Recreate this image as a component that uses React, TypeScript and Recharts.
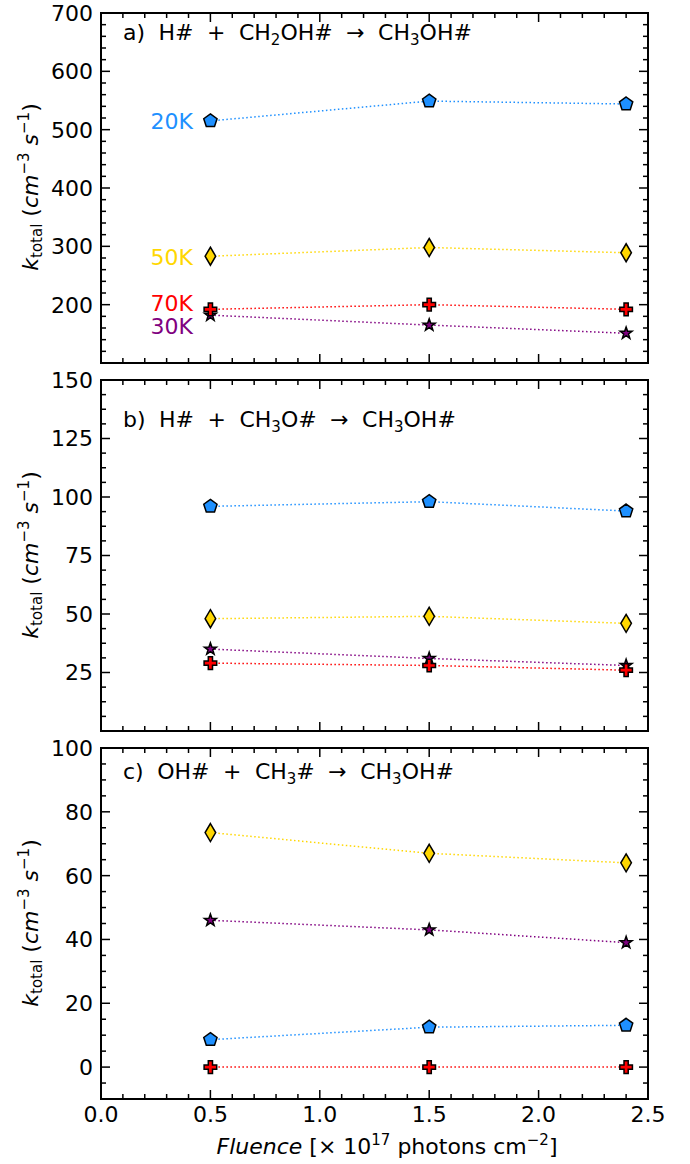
import React from 'react';
import { LineChart, Line, XAxis, YAxis, ReferenceArea, ReferenceDot } from 'recharts';

const FONT = '"DejaVu Sans", sans-serif';
const FS = 22;

const FLUENCE = [0.5, 1.5, 2.4];
const TEMPS = ['20K', '30K', '50K', '70K'];
const COLORS = ['#1e90ff', '#800080', '#ffd700', '#ff0000'];
const MARKERS = ['pentagon', 'star', 'diamond', 'plus'];

// a) H# + CH2OH# -> CH3OH#
const A_20K = [515, 549, 544];
const A_30K = [182, 165, 151];
const A_50K = [283, 298, 289];
const A_70K = [192, 200, 192];

// b) H# + CH3O# -> CH3OH#
const B_20K = [96, 98, 94];
const B_30K = [35, 31, 28];
const B_50K = [48, 49, 46];
const B_70K = [29, 28, 26];

// c) OH# + CH3# -> CH3OH#
const C_20K = [8.6, 12.5, 13.1];
const C_30K = [46, 43, 39];
const C_50K = [73.5, 67, 64];
const C_70K = [0, 0, 0];

// temperature labels in panel a (data y of label centre)
const TEMP_LABEL_Y = [514, 163, 282, 203];

const X_MAJOR = [0, 0.5, 1, 1.5, 2, 2.5];
const A_Y_MAJOR = [200, 300, 400, 500, 600, 700];
const B_Y_MAJOR = [25, 50, 75, 100, 125, 150];
const C_Y_MAJOR = [0, 20, 40, 60, 80, 100];

const PLOT_LEFT = 101;
const PLOT_RIGHT = 648;
const PW = PLOT_RIGHT - PLOT_LEFT;

function steps(from: number, to: number, step: number) {
  const out: number[] = [];
  for (let v = from; v <= to + 1e-9; v += step) out.push(Math.round(v * 1000) / 1000);
  return out;
}

function isMajor(v: number, majors: number[]) {
  return majors.some((m) => Math.abs(m - v) < 1e-6);
}

function rows(series: number[][]) {
  return FLUENCE.map((x, i) => {
    const r: Record<string, number> = { x };
    TEMPS.forEach((t, j) => (r[t] = series[j][i]));
    return r;
  });
}

function Marker({ kind, cx, cy, fill }: { kind: string; cx: number; cy: number; fill: string }) {
  if (cx == null || cy == null) return null;
  let pts: number[][] = [];
  if (kind === 'pentagon') {
    for (let i = 0; i < 5; i++) {
      const a = (-90 + 72 * i) * (Math.PI / 180);
      pts.push([cx + 7 * Math.cos(a), cy + 7 * Math.sin(a)]);
    }
  } else if (kind === 'star') {
    for (let i = 0; i < 10; i++) {
      const a = (-90 + 36 * i) * (Math.PI / 180);
      const r = i % 2 === 0 ? 6.3 : 2.5;
      pts.push([cx + r * Math.cos(a), cy + r * Math.sin(a)]);
    }
  } else if (kind === 'diamond') {
    pts = [[cx, cy - 9], [cx + 5.3, cy], [cx, cy + 9], [cx - 5.3, cy]];
  } else {
    const s = 6.3;
    const t = 2.1;
    pts = [
      [cx - t, cy - s], [cx + t, cy - s], [cx + t, cy - t], [cx + s, cy - t],
      [cx + s, cy + t], [cx + t, cy + t], [cx + t, cy + s], [cx - t, cy + s],
      [cx - t, cy + t], [cx - s, cy + t], [cx - s, cy - t], [cx - t, cy - t],
    ];
  }
  return (
    <polygon
      points={pts.map((p) => p.join(',')).join(' ')}
      fill={fill}
      stroke="#000"
      strokeWidth={1.5}
      strokeLinejoin="miter"
    />
  );
}

type PanelProps = {
  series: number[][];
  yDomain: [number, number];
  yMajor: number[];
  yMinorStep: number;
  plotTop: number;
  plotBottom: number;
  xLabels: boolean;
  tempLabels?: boolean;
};

function Panel({ series, yDomain, yMajor, yMinorStep, plotTop, plotBottom, xLabels, tempLabels }: PanelProps) {
  const data = rows(series);
  const top = plotTop - 12;
  const bottomMargin = xLabels ? 1164 - plotBottom : 12;
  const height = plotBottom - top + bottomMargin;
  const PH = plotBottom - plotTop;
  const xTicks = steps(0, 2.5, 0.1);
  const yTicks = steps(yDomain[0], yDomain[1], yMinorStep);

  const renderXTick = (p: any) => {
    const v = Number(p.payload.value);
    const x = Number(p.x);
    const y = Number(p.y);
    const major = isMajor(v, X_MAJOR);
    const len = major ? 9 : 5;
    return (
      <g>
        <line x1={x} x2={x} y1={y} y2={y - len} stroke="#000" strokeWidth={1.5} />
        <line x1={x} x2={x} y1={y - PH} y2={y - PH + len} stroke="#000" strokeWidth={1.5} />
        {xLabels && major && (
          <text x={x} y={y + 23} textAnchor="middle" fontFamily={FONT} fontSize={FS} fill="#000">
            {v.toFixed(1)}
          </text>
        )}
      </g>
    );
  };

  const renderYTick = (p: any) => {
    const v = Number(p.payload.value);
    const x = Number(p.x);
    const y = Number(p.y);
    const major = isMajor(v, yMajor);
    const len = major ? 9 : 5;
    return (
      <g>
        <line x1={x} x2={x + len} y1={y} y2={y} stroke="#000" strokeWidth={1.5} />
        <line x1={x + PW} x2={x + PW - len} y1={y} y2={y} stroke="#000" strokeWidth={1.5} />
        {major && (
          <text x={x - 8} y={y} dy="0.36em" textAnchor="end" fontFamily={FONT} fontSize={FS} fill="#000">
            {v}
          </text>
        )}
      </g>
    );
  };

  return (
    <div style={{ position: 'absolute', left: 0, top }}>
      <LineChart
        width={690}
        height={height}
        data={data}
        margin={{ top: 12, right: 690 - PLOT_RIGHT, bottom: bottomMargin - 1, left: 0 }}
      >
        <XAxis
          dataKey="x"
          type="number"
          domain={[0, 2.5]}
          ticks={xTicks}
          interval={0}
          height={1}
          tickSize={0}
          tickMargin={0}
          axisLine={false}
          tickLine={false}
          tick={renderXTick}
          allowDataOverflow
        />
        <YAxis
          type="number"
          domain={yDomain}
          ticks={yTicks}
          interval={0}
          width={PLOT_LEFT}
          tickSize={0}
          tickMargin={0}
          axisLine={false}
          tickLine={false}
          tick={renderYTick}
          allowDataOverflow
        />
        <ReferenceArea
          x1={0}
          x2={2.5}
          y1={yDomain[0]}
          y2={yDomain[1]}
          fill="none"
          fillOpacity={0}
          stroke="#000"
          strokeWidth={2}
          ifOverflow="visible"
        />
        {TEMPS.map((t, j) => (
          <Line
            key={t}
            type="linear"
            dataKey={t}
            stroke={COLORS[j]}
            strokeWidth={1.5}
            strokeDasharray="1.5 2.5"
            isAnimationActive={false}
            activeDot={false}
            dot={(p: any) => (
              <Marker key={`${t}-${p.index}`} kind={MARKERS[j]} cx={p.cx} cy={p.cy} fill={COLORS[j]} />
            )}
          />
        ))}
        {tempLabels &&
          TEMPS.map((t, j) => (
            <ReferenceDot
              key={`lbl-${t}`}
              x={0.42}
              y={TEMP_LABEL_Y[j]}
              ifOverflow="visible"
              shape={(p: any) => (
                <text
                  x={p.cx}
                  y={p.cy}
                  dy="0.36em"
                  textAnchor="end"
                  fontFamily={FONT}
                  fontSize={FS}
                  fill={COLORS[j]}
                >
                  {t}
                </text>
              )}
            />
          ))}
      </LineChart>
    </div>
  );
}

// title parts: [before sub, sub digit, between, sub digit, after]
function Title({ y, parts }: { y: number; parts: string[] }) {
  return (
    <text x={123} y={y} fontFamily={FONT} fontSize={FS} fill="#000" wordSpacing={6.5} style={{ whiteSpace: 'pre' }}>
      <tspan>{parts[0]}</tspan>
      <tspan fontSize={15} dy={5}>{parts[1]}</tspan>
      <tspan dy={-5}>{parts[2]}</tspan>
      <tspan fontSize={15} dy={5}>{parts[3]}</tspan>
      <tspan dy={-5}>{parts[4]}</tspan>
    </text>
  );
}

function YLabel({ cy }: { cy: number }) {
  return (
    <text
      transform={`translate(38, ${cy}) rotate(-90)`}
      textAnchor="middle"
      fontFamily={FONT}
      fontSize={FS}
      fill="#000"
      style={{ whiteSpace: 'pre' }}
    >
      <tspan fontStyle="italic">k</tspan>
      <tspan fontSize={15} dy={4}>total</tspan>
      <tspan dy={-4}> (</tspan>
      <tspan fontStyle="italic">cm</tspan>
      <tspan fontSize={15} dy={-9}>−3</tspan>
      <tspan dy={9}> </tspan>
      <tspan fontStyle="italic">s</tspan>
      <tspan fontSize={15} dy={-9}>−1</tspan>
      <tspan dy={9}>)</tspan>
    </text>
  );
}

export default function App() {
  return (
    <div style={{ position: 'absolute', left: 0, top: 0, width: 690, height: 1164, background: '#fff' }}>
      <Panel
        series={[A_20K, A_30K, A_50K, A_70K]}
        yDomain={[100, 700]}
        yMajor={A_Y_MAJOR}
        yMinorStep={20}
        plotTop={12.5}
        plotBottom={362.5}
        xLabels={false}
        tempLabels
      />
      <Panel
        series={[B_20K, B_30K, B_50K, B_70K]}
        yDomain={[0, 150]}
        yMajor={B_Y_MAJOR}
        yMinorStep={6.25}
        plotTop={380}
        plotBottom={731}
        xLabels={false}
      />
      <Panel
        series={[C_20K, C_30K, C_50K, C_70K]}
        yDomain={[-10, 100]}
        yMajor={C_Y_MAJOR}
        yMinorStep={5}
        plotTop={748}
        plotBottom={1099}
        xLabels
      />
      <svg
        width={690}
        height={1164}
        style={{ position: 'absolute', left: 0, top: 0, pointerEvents: 'none' }}
      >
        <Title y={39.5} parts={['a) H# + CH', '2', 'OH# → CH', '3', 'OH#']} />
        <Title y={427} parts={['b) H# + CH', '3', 'O# → CH', '3', 'OH#']} />
        <Title y={779} parts={['c) OH# + CH', '3', '# → CH', '3', 'OH#']} />
        <YLabel cy={187} />
        <YLabel cy={555} />
        <YLabel cy={923} />
        <text x={387} y={1154} textAnchor="middle" fontFamily={FONT} fontSize={FS} fill="#000" style={{ whiteSpace: 'pre' }}>
          <tspan fontStyle="italic">Fluence</tspan>
          <tspan> [× 10</tspan>
          <tspan fontSize={15} dy={-9}>17</tspan>
          <tspan dy={9}> photons cm</tspan>
          <tspan fontSize={15} dy={-9}>−2</tspan>
          <tspan dy={9}>]</tspan>
        </text>
      </svg>
    </div>
  );
}
